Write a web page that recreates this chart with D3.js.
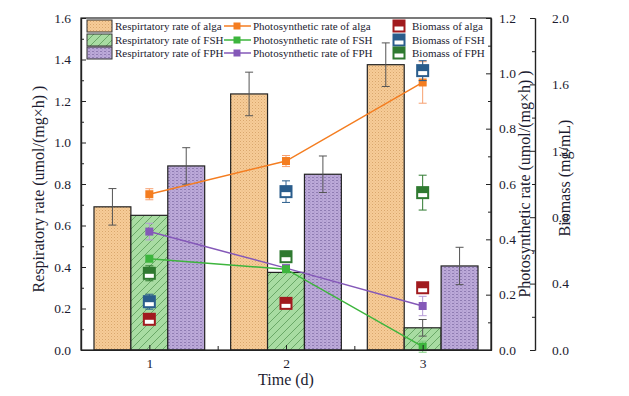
<!DOCTYPE html>
<html><head><meta charset="utf-8">
<script src="https://cdn.jsdelivr.net/npm/d3@7"></script>
<style>body{margin:0;background:#fff;} svg{display:block;font-family:"Liberation Serif","Times New Roman",serif;}</style>
</head><body>
<svg id="c" width="629" height="396"></svg>
<script>
const days = [1, 2, 3];
const resAlga = [0.69, 1.234, 1.375];
const resAlgaErr = [0.088, 0.105, 0.105];
const resFSH = [0.649, 0.374, 0.107];
const resFSHErr = [0, 0, 0.04];
const resFPH = [0.887, 0.847, 0.405];
const resFPHErr = [0.088, 0.088, 0.09];
const phoAlga = [0.563, 0.683, 0.967];
const phoAlgaErr = [0.02, 0.02, 0.075];
const phoFSH = [0.33, 0.292, 0.012];
const phoFSHErr = [0.01, 0.01, 0.02];
const phoFPH = [0.428, 0.296, 0.159];
const phoFPHErr = [0.03, 0.01, 0.035];
const bioAlga = [0.185, 0.281, 0.375];
const bioAlgaErr = [0.02, 0.02, 0.02];
const bioFSH = [0.291, 0.954, 1.683];
const bioFSHErr = [0.045, 0.065, 0.06];
const bioFPH = [0.462, 0.562, 0.948];
const bioFPHErr = [0.045, 0.02, 0.105];
const leftTicks = [0, 0.2, 0.4, 0.6, 0.8, 1.0, 1.2, 1.4, 1.6];
const photoTicks = [0, 0.2, 0.4, 0.6, 0.8, 1.0, 1.2];
const bioTicks = [0, 0.4, 0.8, 1.2, 1.6, 2.0];

const svg = d3.select("#c");
const L = 81, R = 491, T = 18, B = 350;
const x = d3.scaleLinear().domain([0.5, 3.5]).range([L, R]);
const yL = d3.scaleLinear().domain([0, 1.6]).range([B, T]);
const yP = d3.scaleLinear().domain([0, 1.2]).range([B, T]);
const yB = d3.scaleLinear().domain([0, 2.0]).range([B, T]);

const cAlga = "#f47d20", cFSH = "#3db53d", cFPH = "#8458b8";
const bAlga = "#a11a1e", bFSH = "#2a5d8c", bFPH = "#2f7a30";
const txt = "#1c1c30";

// patterns
const defs = svg.append("defs");
const pA = defs.append("pattern").attr("id","pA").attr("width",3).attr("height",3).attr("patternUnits","userSpaceOnUse");
pA.append("rect").attr("width",3).attr("height",3).attr("fill","#f6cc98");
pA.append("rect").attr("width",1).attr("height",1).attr("fill","#d9a66c");
pA.append("rect").attr("x",1.5).attr("y",1.5).attr("width",1).attr("height",1).attr("fill","#e8b67c");
const pF = defs.append("pattern").attr("id","pF").attr("width",8).attr("height",8).attr("patternUnits","userSpaceOnUse");
pF.append("rect").attr("width",8).attr("height",8).attr("fill","#a8dca2");
pF.append("path").attr("d","M-2,2 L2,-2 M0,8 L8,0 M6,10 L10,6").attr("stroke","#5b9a58").attr("stroke-width",0.8);
const pP = defs.append("pattern").attr("id","pP").attr("width",4).attr("height",3).attr("patternUnits","userSpaceOnUse");
pP.append("rect").attr("width",4).attr("height",3).attr("fill","#bba8d8");
pP.append("rect").attr("width",2).attr("height",1).attr("fill","#8f7cb2");
pP.append("rect").attr("x",2).attr("y",1.5).attr("width",1).attr("height",1).attr("fill","#a592c6");

// bars
const bw = 0.27;
const series = [
  {v: resAlga, e: resAlgaErr, off: -1, fill: "url(#pA)"},
  {v: resFSH, e: resFSHErr, off: 0, fill: "url(#pF)"},
  {v: resFPH, e: resFPHErr, off: 1, fill: "url(#pP)"}
];
const barW = x(bw) - x(0);
series.forEach(s => {
  const g = svg.append("g");
  g.selectAll("rect").data(days).join("rect")
    .attr("x", (d,i) => x(d + s.off*bw) - barW/2)
    .attr("y", (d,i) => yL(s.v[i]))
    .attr("width", barW)
    .attr("height", (d,i) => yL(0) - yL(s.v[i]))
    .attr("fill", s.fill).attr("stroke", "#222").attr("stroke-width", 1.2);
});
// bar error bars
series.forEach(s => {
  days.forEach((d,i) => {
    if (!s.e[i]) return;
    const cx = x(d + s.off*bw);
    const y1 = yL(s.v[i] + s.e[i]), y2 = yL(s.v[i] - s.e[i]);
    const g = svg.append("g").attr("stroke","#555").attr("stroke-width",1);
    g.append("line").attr("x1",cx).attr("x2",cx).attr("y1",y1).attr("y2",y2);
    g.append("line").attr("x1",cx-4).attr("x2",cx+4).attr("y1",y1).attr("y2",y1);
    g.append("line").attr("x1",cx-4).attr("x2",cx+4).attr("y1",y2).attr("y2",y2);
  });
});

function errBar(cx, yv, ye, scale, color) {
  const y1 = scale(yv + ye), y2 = scale(yv - ye);
  const g = svg.append("g").attr("stroke", color).attr("stroke-width", 1);
  g.append("line").attr("x1",cx).attr("x2",cx).attr("y1",y1).attr("y2",y2);
  g.append("line").attr("x1",cx-4).attr("x2",cx+4).attr("y1",y1).attr("y2",y1);
  g.append("line").attr("x1",cx-4).attr("x2",cx+4).attr("y1",y2).attr("y2",y2);
}
function bioMarker(g, cx, cy, color) {
  const s = 13;
  g.append("rect").attr("x",cx-s/2).attr("y",cy-s/2).attr("width",s).attr("height",s).attr("fill",color);
  g.append("rect").attr("x",cx-s/2+2).attr("y",cy+0.5).attr("width",s-4).attr("height",s/2-2.5).attr("fill","#fff");
}

// photosynthetic lines (purple first so it sits underneath)
const photo = [
  {v: phoFPH, e: phoFPHErr, c: cFPH, ec: "#b59ad6"},
  {v: phoAlga, e: phoAlgaErr, c: cAlga, ec: "#f7a070"},
  {v: phoFSH, e: phoFSHErr, c: cFSH, ec: "#7ccc7c"}
];
const line = d3.line();
photo.forEach(p => {
  days.forEach((d,i) => errBar(x(d), p.v[i], p.e[i], yP, p.ec));
  svg.append("path").attr("d", line(days.map((d,i) => [x(d), yP(p.v[i])])))
    .attr("fill","none").attr("stroke", p.c).attr("stroke-width", 1.5);
  svg.append("g").selectAll("rect").data(days).join("rect")
    .attr("x", d => x(d) - 4).attr("y", (d,i) => yP(p.v[i]) - 4)
    .attr("width", 8).attr("height", 8).attr("fill", p.c);
});

// biomass markers
const bio = [
  {v: bioAlga, e: bioAlgaErr, c: bAlga},
  {v: bioFSH, e: bioFSHErr, c: bFSH},
  {v: bioFPH, e: bioFPHErr, c: bFPH}
];
bio.forEach(b => {
  days.forEach((d,i) => {
    errBar(x(d), b.v[i], b.e[i], yB, b.c);
    bioMarker(svg.append("g"), x(d), yB(b.v[i]), b.c);
  });
});

// frame
svg.append("rect").attr("x",L).attr("y",T).attr("width",R-L).attr("height",B-T)
  .attr("fill","none").attr("stroke","#222").attr("stroke-width",1.2);

// axes
const tickFont = 13.5;
const axL = svg.append("g").attr("transform",`translate(${L},0)`)
  .call(d3.axisLeft(yL).tickValues(leftTicks).tickFormat(d3.format(".1f")).tickSizeInner(-5).tickSizeOuter(0).tickPadding(10));
const axLm = svg.append("g").attr("transform",`translate(${L},0)`)
  .call(d3.axisLeft(yL).tickValues(d3.range(0.1,1.6,0.2)).tickFormat("").tickSizeInner(-3).tickSizeOuter(0));
const axP = svg.append("g").attr("transform",`translate(${R},0)`)
  .call(d3.axisRight(yP).tickValues(photoTicks).tickFormat(d3.format(".1f")).tickSizeInner(-5).tickSizeOuter(0).tickPadding(8));
const axPm = svg.append("g").attr("transform",`translate(${R},0)`)
  .call(d3.axisRight(yP).tickValues(d3.range(0.1,1.2,0.2)).tickFormat("").tickSizeInner(-3).tickSizeOuter(0));
const BX = 535;
const axB = svg.append("g").attr("transform",`translate(${BX},0)`)
  .call(d3.axisRight(yB).tickValues(bioTicks).tickFormat(d3.format(".1f")).tickSizeInner(-5).tickSizeOuter(0).tickPadding(14));
const axBm = svg.append("g").attr("transform",`translate(${BX},0)`)
  .call(d3.axisRight(yB).tickValues(d3.range(0.2,2.0,0.4)).tickFormat("").tickSizeInner(-3).tickSizeOuter(0));
const axX = svg.append("g").attr("transform",`translate(0,${B})`)
  .call(d3.axisBottom(x).tickValues(days).tickFormat(d3.format("d")).tickSizeInner(-5).tickSizeOuter(0).tickPadding(8));
const axXm = svg.append("g").attr("transform",`translate(0,${B})`)
  .call(d3.axisBottom(x).tickValues([1.5, 2.5]).tickFormat("").tickSizeInner(-4).tickSizeOuter(0));
[axL, axLm, axP, axPm, axB, axBm, axX, axXm].forEach(a => {
  a.selectAll(".domain").attr("stroke","#222").attr("stroke-width",1.2);
  a.selectAll("line").attr("stroke","#222");
  a.selectAll("text").attr("font-family","Liberation Serif").attr("font-size",tickFont).attr("fill",txt);
});
axB.selectAll(".tick text").attr("x", 17);

// axis titles
svg.append("text").attr("transform",`translate(44,${(T+B)/2+5}) rotate(-90)`)
  .attr("text-anchor","middle").attr("font-size",16).attr("fill",txt).text("Respiratory rate (umol/(mg×h) )");
svg.append("text").attr("transform",`translate(530,${(T+B)/2}) rotate(-90)`)
  .attr("text-anchor","middle").attr("font-size",16).attr("fill",txt).text("Photosynthetic rate (umol/(mg×h) )");
svg.append("text").attr("transform",`translate(570,${(T+B)/2-6}) rotate(-90)`)
  .attr("text-anchor","middle").attr("font-size",16).attr("fill",txt).text("Biomass (mg/mL)");
svg.append("text").attr("x", x(2)).attr("y", 385).attr("text-anchor","middle")
  .attr("font-size",16).attr("fill",txt).text("Time (d)");

// legend
const legRows = [26, 40, 53];
const legFont = 11;
const col1 = [
  {fill:"url(#pA)", t:"Respirtatory rate of alga"},
  {fill:"url(#pF)", t:"Respirtatory rate of FSH"},
  {fill:"url(#pP)", t:"Respirtatory rate of FPH"}
];
col1.forEach((c,i) => {
  svg.append("rect").attr("x",87).attr("y",legRows[i]-6).attr("width",25).attr("height",12)
    .attr("fill",c.fill).attr("stroke","#333").attr("stroke-width",1);
  svg.append("text").attr("x",115).attr("y",legRows[i]+4).attr("font-size",legFont).attr("fill",txt).text(c.t);
});
const col2 = [
  {c:cAlga, t:"Photosynthetic rate of alga"},
  {c:cFSH, t:"Photosynthetic rate of FSH"},
  {c:cFPH, t:"Photosynthetic rate of FPH"}
];
col2.forEach((c,i) => {
  svg.append("line").attr("x1",224).attr("x2",251).attr("y1",legRows[i]).attr("y2",legRows[i])
    .attr("stroke",c.c).attr("stroke-width",1.5);
  svg.append("rect").attr("x",233.5).attr("y",legRows[i]-3.5).attr("width",7).attr("height",7).attr("fill",c.c);
  svg.append("text").attr("x",253).attr("y",legRows[i]+4).attr("font-size",legFont).attr("fill",txt).text(c.t);
});
const col3 = [
  {c:bAlga, t:"Biomass of alga"},
  {c:bFSH, t:"Biomass of FSH"},
  {c:bFPH, t:"Biomass of FPH"}
];
col3.forEach((c,i) => {
  bioMarker(svg.append("g"), 399, legRows[i], c.c);
  svg.append("text").attr("x",412).attr("y",legRows[i]+4).attr("font-size",legFont).attr("fill",txt).text(c.t);
});
</script>
</body></html>
